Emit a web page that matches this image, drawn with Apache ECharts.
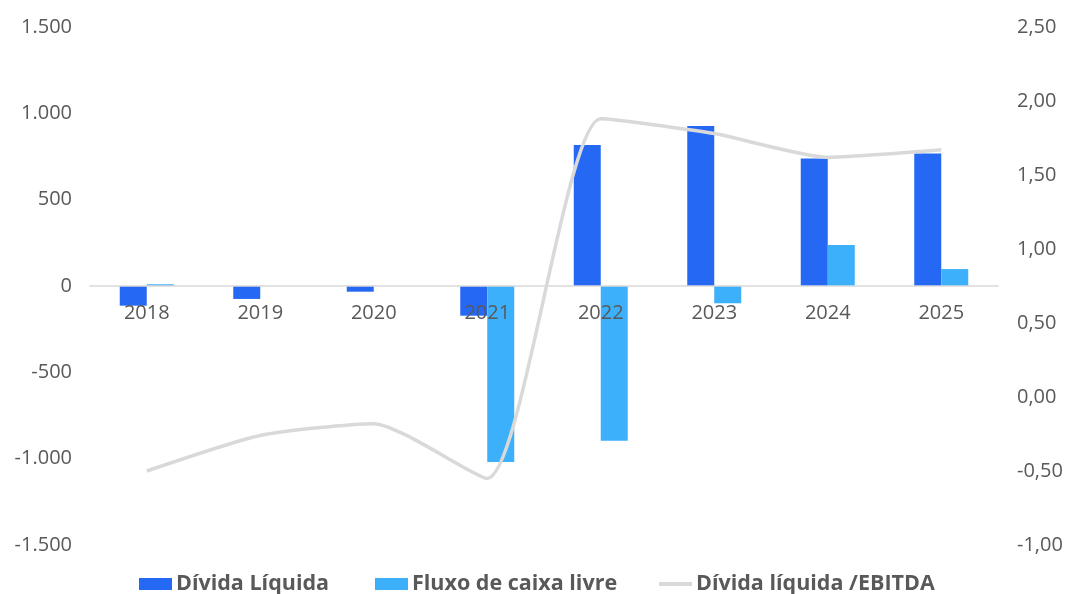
<!DOCTYPE html>
<html>
<head>
<meta charset="utf-8">
<script src="https://cdn.jsdelivr.net/npm/echarts@6/dist/echarts.min.js"></script>
<style>html,body{margin:0;padding:0;background:#fff}#c{width:1070px;height:594px}</style>
</head>
<body>
<div id="c"></div>
<script>
var categories = ['2018','2019','2020','2021','2022','2023','2024','2025'];
var dividaLiquida = [-114, -75, -33, -172, 816, 926, 739, 768];
var fluxoCaixa = [10, 0, 0, -1019, -896, -100, 237, 98];
var dividaEbitda = [-0.50, -0.26, -0.18, -0.55, 1.88, 1.78, 1.62, 1.67];
var leftTicks = {min: -1500, max: 1500, step: 500};
var rightTicks = {min: -1, max: 2.5, step: 0.5};

var chart = echarts.init(document.getElementById('c'));
var font = 'Open Sans';
var grey = '#595959';
function fmtLeft(v){
  var s = Math.abs(v).toString().replace(/\B(?=(\d{3})+(?!\d))/g, '.');
  return (v < 0 ? '-' : '') + s;
}
var legendText = {fontFamily: 'Open Sans', fontSize: 21.5, fontWeight: 'bold', color: grey, padding: [0,0,0,-1]};
chart.setOption({
  animation: false,
  textStyle: {fontFamily: font},
  grid: {left: 90, right: 72, top: 27, bottom: 49, containLabel: false},
  legend: [
    {left: 139, top: 573, padding: 0, itemWidth: 33, itemHeight: 12, itemGap: 0,
      textStyle: legendText, data: [{name: 'Dívida Líquida', icon: 'rect'}]},
    {left: 375, top: 573, padding: 0, itemWidth: 33, itemHeight: 12, itemGap: 0,
      textStyle: legendText, data: [{name: 'Fluxo de caixa livre', icon: 'rect'}]},
    {left: 659, top: 573, padding: 0, itemWidth: 33, itemHeight: 4, itemGap: 0,
      textStyle: legendText, data: [{name: 'Dívida líquida /EBITDA', icon: 'rect', itemStyle: {color: '#d9d9d9'}}]}
  ],
  xAxis: {
    type: 'category',
    data: categories,
    z: 10,
    axisLine: {onZero: true, onZeroAxisIndex: 0, lineStyle: {color: '#d9d9d9', width: 1.5}},
    axisTick: {show: false},
    axisLabel: {color: grey, fontSize: 20, fontFamily: font, margin: -242}
  },
  yAxis: [
    {
      type: 'value', min: leftTicks.min, max: leftTicks.max, interval: leftTicks.step,
      axisLine: {show: false, onZero: false}, axisTick: {show: false}, splitLine: {show: false},
      axisLabel: {color: grey, fontSize: 20, fontFamily: font, margin: 18, formatter: fmtLeft}
    },
    {
      type: 'value', min: rightTicks.min, max: rightTicks.max, interval: rightTicks.step,
      axisLine: {show: false, onZero: false}, axisTick: {show: false}, splitLine: {show: false},
      axisLabel: {color: grey, fontSize: 20, fontFamily: font, margin: 19,
        formatter: function(v){ return v.toFixed(2).replace('.', ','); }}
    }
  ],
  series: [
    {name: 'Dívida Líquida', type: 'bar', data: dividaLiquida, barWidth: 27, barGap: '0%',
      itemStyle: {color: '#2568f4'}},
    {name: 'Fluxo de caixa livre', type: 'bar', data: fluxoCaixa, barWidth: 27, barGap: '0%',
      itemStyle: {color: '#3cb0fb'}},
    {name: 'Dívida líquida /EBITDA', type: 'line', yAxisIndex: 1, data: dividaEbitda,
      smooth: 0.2, symbol: 'none', z: 12,
      lineStyle: {color: '#d9d9d9', width: 3.5}, itemStyle: {color: '#d9d9d9'}}
  ]
});
</script>
</body>
</html>
